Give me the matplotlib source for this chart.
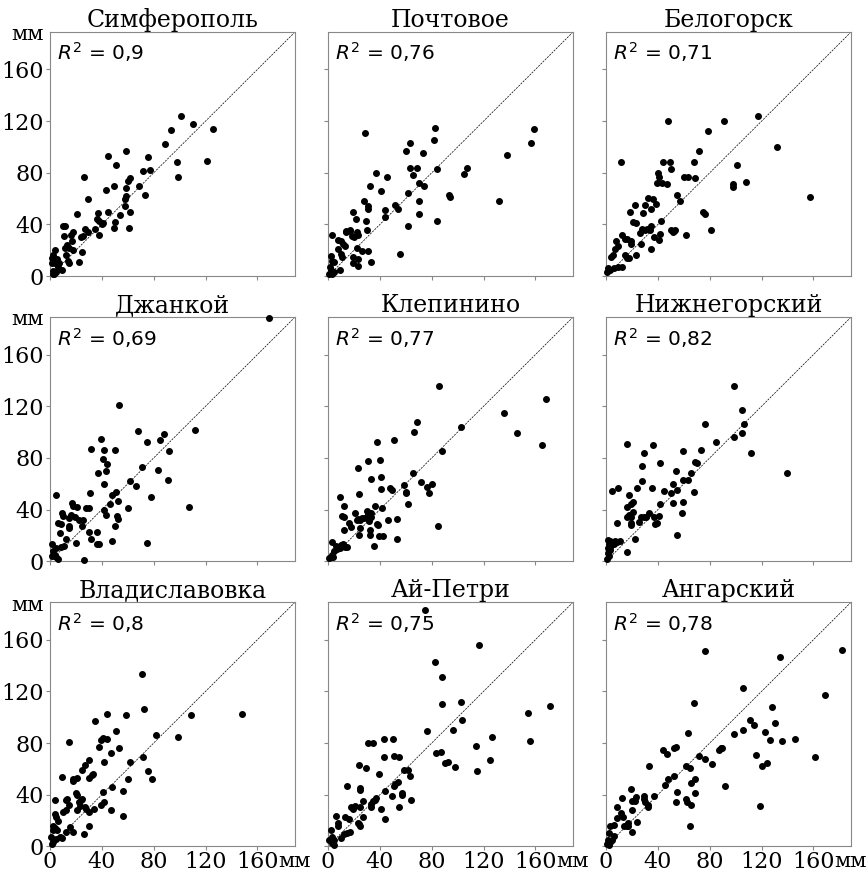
import numpy as np
import matplotlib
matplotlib.use("Agg")
import matplotlib.pyplot as plt

plt.rcParams['font.family'] = 'DejaVu Serif'
plt.rcParams['mathtext.fontset'] = 'dejavusans'

axis_max = 189
tick_values = [0, 40, 80, 120, 160]
unit_label = 'мм'

station_names = ['Симферополь', 'Почтовое', 'Белогорск',
                 'Джанкой', 'Клепинино', 'Нижнегорский',
                 'Владиславовка', 'Ай-Петри', 'Ангарский']
r2_values = ['0,9', '0,76', '0,71', '0,69', '0,77', '0,82', '0,8', '0,75', '0,78']

simferopol = np.array([
    [101, 124], [110, 117.5], [126, 114], [93, 113], [89, 102], [121, 89], [98, 88], [98.6, 76.6],
    [45, 93], [59, 97], [76, 92], [77, 82], [72, 81.5], [51, 86], [62, 76], [60, 74], [69, 70],
    [73, 63], [49, 70], [43, 67], [59, 68], [59, 62], [58, 60], [58, 54], [62, 50], [61, 37],
    [54, 47], [50, 42], [45, 50], [49, 37], [41, 41], [40, 40], [37, 49], [36, 44], [38, 43],
    [35, 36.5], [38, 32], [26, 77], [29.5, 60], [21, 48], [27, 36.5], [25.6, 31], [24, 30],
    [29, 34], [25, 19], [22, 11], [10, 39], [11.6, 39], [11, 31], [17.6, 34], [16, 32],
    [16.6, 27], [13, 24], [11.6, 22], [15, 22], [17.6, 20], [12, 16], [14, 12], [15, 10],
    [9, 5], [4, 20], [2.6, 16], [5.7, 13], [4, 10], [6.5, 7], [2.6, 4], [2, 2], [3.4, 2],
    [1.3, 10], [1.3, 14], [5, 3.4], [7, 10]
])

pochtovoe = np.array([
    [28.4, 111], [82.6, 115], [82, 105.6], [63.5, 103], [60, 97], [73, 95], [159, 114],
    [157, 103], [138, 94], [107, 84], [105, 79], [84, 83], [63, 84], [68.5, 84], [65.5, 78],
    [37, 80], [45.7, 77], [32.6, 70], [41, 66], [70, 72], [74, 70], [62, 64], [28, 58],
    [31, 54], [31, 52], [52, 55], [54, 52], [44, 51], [44, 46], [70, 58], [70, 48], [93, 63],
    [94, 61], [131.6, 58], [84, 42.6], [62, 39], [55.5, 17.5], [19, 50], [21.7, 44],
    [29, 42.6], [30, 36], [16.8, 36], [17.3, 35], [13.7, 35], [14, 34], [18.6, 31], [20, 30],
    [22.5, 34], [23, 32], [3.4, 32], [7.5, 28], [10, 27], [11.6, 25], [13, 23], [7.7, 21.4],
    [10, 17.5], [10.6, 15], [19, 15], [22, 21.7], [26, 19.4], [31, 19.4], [23.5, 13],
    [19, 10], [23, 8], [33, 11], [9, 4.6], [2, 15.5], [3, 11.6], [5, 11], [1.3, 7],
    [2.3, 4.6], [4.4, 3.4], [0.5, 2], [3, 1.5]
])

belogorsk = np.array([
    [117, 124], [91, 120.5], [47.5, 120], [79, 112], [131.6, 100], [72, 96.6], [11.6, 88],
    [44, 88], [49, 88], [50, 83], [67.6, 88], [101, 86], [60, 77], [63, 76.6], [69, 76],
    [40, 80], [41, 77], [39, 72], [43, 72], [47, 71], [98, 71], [98, 69], [108, 72.6],
    [157.6, 61], [55, 62.6], [57, 58], [32.6, 60.6], [36, 60], [38.5, 56], [34.6, 52],
    [29.7, 55], [22, 55], [28.4, 49], [18.3, 50], [21, 42], [23.5, 41], [35, 39], [42.6, 42.4],
    [26, 33.6], [28, 36.6], [29.7, 36], [31.7, 36.6], [33.6, 35.4], [50, 35.7], [52, 34],
    [53, 35.5], [52.8, 34.7], [62, 31.6], [81, 36], [75, 49.7], [76, 48], [37, 30.3],
    [41, 28], [42, 32.6], [35, 21], [26.6, 25], [23, 16], [12, 31.6], [15, 28.5], [16.5, 29],
    [19, 27], [19.6, 25], [7.7, 27], [9.3, 23], [7, 21.4], [5, 16.3], [3.6, 15], [14.5, 16],
    [16, 14], [18, 14], [1.3, 6.5], [3.4, 4.6], [6.5, 6], [9, 6.7], [12, 7.2], [0.8, 3.4]
])

dzhankoy = np.array([
    [169, 188], [53.4, 121], [68, 101], [111.5, 101.6], [88, 98.6], [74.6, 92], [85, 94],
    [39.5, 94.7], [32, 87], [42, 86], [50, 86], [92, 85], [40.6, 79], [44, 75], [43, 70],
    [37, 68], [83, 71], [70.7, 73], [91, 63], [62, 62], [66, 58], [42, 60], [31, 53],
    [51, 54], [48, 51.6], [52.6, 47], [77.7, 49.5], [46.5, 44], [42, 39.5], [43, 35.6],
    [52, 35], [52.7, 33], [60, 41.3], [107, 42], [28, 41], [30, 41], [21, 41.8], [17, 45],
    [17.5, 43], [19.6, 34.6], [25.5, 32], [22, 31.6], [24.5, 27.6], [15, 33.5], [16.5, 35.6],
    [9, 37], [10, 35], [6, 29.7], [8.5, 29], [8, 22], [14.4, 27], [15, 26], [4.6, 51.6],
    [30, 23], [36.6, 23], [32, 17.5], [36, 13], [37.7, 13.4], [47.5, 16], [50, 27], [75, 14],
    [20, 14], [12.6, 17.3], [11, 12], [8.8, 11.4], [4.6, 10], [1.5, 13], [2.6, 8], [3.6, 5],
    [5, 3.6], [6.5, 2], [26, 1.3], [1.3, 3.9]
])

klepinino = np.array([
    [86, 136], [168, 125.5], [136, 114.6], [146, 99.6], [165, 90], [102.5, 104], [68.6, 108],
    [66, 100], [51, 93.7], [37.7, 92], [31, 78], [40, 78.7], [23, 72], [88, 85], [65.5, 68],
    [33.5, 64], [41, 65.5], [72, 61.7], [59, 59], [48, 56.5], [49, 55], [40.5, 56], [60, 54],
    [60, 53], [76, 57.5], [80, 59.6], [78, 52.6], [24, 52], [9, 50], [12.6, 42.6],
    [36.6, 42.6], [42, 41], [62, 44], [21, 37.4], [23.5, 33], [30, 39], [31, 36.5],
    [33.5, 37], [33, 34], [31.6, 33], [28, 33.5], [24.5, 32.3], [26, 33.5], [22, 31.8],
    [10.8, 34.8], [12.6, 34.3], [16.5, 29.4], [17.5, 26.6], [12.4, 24], [24.5, 25.8],
    [24, 20.6], [31.7, 31], [32.5, 24], [32.5, 20.6], [38, 29], [38.4, 28], [39, 19.4],
    [42.3, 19.6], [46, 31.7], [53.4, 33], [53, 17], [35.4, 11.6], [85, 27.6], [3.4, 15],
    [6, 12], [8.3, 11.4], [10, 12.6], [11.6, 13.4], [13.4, 11.4], [15, 11], [9.5, 10],
    [7, 9.8], [5, 7.7], [3.4, 4.6], [2.3, 3.6], [1, 2.6], [4, 3]
])

nizhnegorsky = np.array([
    [99, 136], [105, 117], [106.6, 106], [76, 106.6], [105, 99], [98.6, 96], [85, 92],
    [112, 83.6], [140, 68], [16.5, 91], [36, 90], [29, 83.6], [59.6, 85.7], [73.5, 86],
    [69, 77], [70.4, 76], [65.6, 68], [28, 74], [42, 76], [53.7, 70], [28, 62], [52, 60],
    [59, 62.7], [63, 62.7], [24, 57], [35.6, 57], [45, 54.7], [50, 52.6], [55, 55], [68, 54],
    [4.6, 54.7], [9, 56.5], [18, 51.6], [21, 45.7], [19, 44], [16, 42], [21, 38], [17.5, 36],
    [16, 34.6], [19, 34.6], [25.5, 30.7], [19, 29.4], [19, 28], [27, 34.3], [29, 34.6],
    [31, 34.6], [33, 37], [37, 34], [41, 35], [37.7, 28.6], [39.7, 29.4], [42, 44], [52, 45],
    [59, 45.7], [58.6, 37.7], [22.7, 17.3], [8.5, 30], [54.5, 20], [16.5, 7], [1.3, 16.8],
    [2.8, 15.5], [4.6, 15], [6.7, 15.5], [8.5, 15], [11, 16], [2, 13], [3.9, 12.4], [6, 13],
    [1.3, 10], [2.8, 9], [1.3, 6.5], [2, 3.9], [0.8, 2], [3.4, 11]
])

vladislavovka = np.array([
    [71, 133.6], [72.5, 106], [109, 102], [148, 102.6], [98.6, 85], [81.5, 86.6], [71.7, 69],
    [76, 58.5], [78.4, 52], [60, 52], [62, 65], [59, 102], [44, 102.4], [34.4, 97], [51, 89],
    [41, 84], [44, 83], [39, 82.6], [37.5, 77], [53.6, 76], [47, 72.5], [41.7, 65.6],
    [14.8, 81], [30, 67], [27, 63], [25, 59.5], [33, 56], [32.6, 55], [30, 53], [9, 53.6],
    [17.6, 52], [21, 53], [17.6, 50.5], [20, 41], [20.5, 39.6], [13, 37], [12, 36], [15, 32],
    [12, 28], [9.8, 27], [20.7, 28], [22, 34.4], [24, 35.7], [23, 31.6], [27, 30.5],
    [28, 29], [24.6, 37], [34, 29], [40.6, 42], [39, 32], [41.7, 34], [48, 45.6], [47, 28],
    [30, 26.7], [56, 42.7], [56.4, 23.6], [4, 35.7], [4, 25], [5, 23], [6, 20], [2.6, 15.5],
    [4, 14.5], [5.7, 13], [2.6, 12.4], [12, 11], [18, 11], [15.5, 15], [26, 9.3], [30, 15.5],
    [5, 6], [7.8, 7.2], [2.6, 3.4], [1.3, 2], [9, 6.7], [0.5, 7.2]
])

ai_petri = np.array([
    [74.6, 183], [116.5, 156], [82.6, 143], [88, 131], [88, 110.5], [102.5, 112], [103, 98],
    [96.6, 90], [76, 89], [171, 109], [154, 103.6], [156, 81.5], [126.6, 84.6], [114, 77.7],
    [125, 67], [115, 58], [83, 72.5], [87.5, 72.7], [90, 64.7], [92.6, 65], [97.6, 61.6],
    [50.5, 83], [31, 80], [34.4, 80], [43.5, 83], [43, 69], [50.7, 70], [54.6, 69], [24, 63],
    [29, 61], [58.5, 59.5], [62, 59.5], [63.4, 54.6], [39, 55.7], [15, 47], [25, 45.3],
    [25, 43.5], [43.6, 42.7], [50.7, 46.6], [52, 48], [54, 49.5], [57, 41.4], [56.7, 40],
    [49, 39], [64, 35.7], [54.6, 30.3], [37, 37.8], [36, 36], [35, 35], [33, 33], [33, 30.5],
    [27, 35], [25, 30.5], [19, 29], [18, 30.5], [20.5, 31], [41, 29], [44, 21], [27, 22.8],
    [23, 18.4], [25, 15.8], [23.6, 17.6], [6, 23.6], [7.5, 18.4], [8, 16], [13, 22.8],
    [16.3, 21], [17, 10.9], [15, 10.4], [12.7, 9.8], [10, 6.2], [2, 12.7], [2.8, 7.2],
    [1, 4.7], [3.4, 2.8], [4.7, 4.7], [5, 1.3]
])

angarsky = np.array([
    [182, 151.7], [76, 151.4], [134.6, 146.5], [106, 123], [169, 117.5], [68, 111], [128, 108],
    [111, 98], [130, 95.5], [114, 93.7], [106, 90], [98.6, 86.7], [123, 88.8], [126.4, 82.3],
    [136, 81.8], [146, 83], [63, 87.5], [43.7, 74.3], [46.9, 71.7], [52.6, 76.4], [53.6, 77],
    [71.7, 70], [76.4, 67.3], [82, 64], [87, 75], [88.5, 75.8], [89.3, 76], [116, 70.7],
    [124.5, 64.5], [120.4, 62], [161, 69], [33.4, 62], [61.6, 62.4], [65, 61], [48, 52],
    [52.6, 54.4], [45.3, 47.4], [68.6, 52], [65.5, 49], [55, 42], [68.4, 41.4], [53.8, 34.7],
    [62, 37], [62.7, 34.2], [65.3, 32], [92, 47], [119, 31.3], [64.7, 15.8], [19.4, 44.8],
    [12.4, 37.5], [8.8, 30.3], [20, 35.2], [23.3, 38], [22.5, 35.2], [29, 39], [29, 37],
    [30, 34], [32.4, 30.5], [32.6, 32.4], [37.3, 39], [20, 28.5], [11.6, 26], [13, 22.8],
    [8.5, 21.7], [14, 16], [16.6, 16], [16.6, 18.4], [16.3, 15.5], [20, 11.4], [23.8, 18.6],
    [3.4, 16], [6, 16.6], [2.6, 10.4], [6.5, 7.8], [1.6, 4.7], [3, 3.4], [4.4, 4.7],
    [0.8, 2], [2.3, 1.3]
])

station_data = [simferopol, pochtovoe, belogorsk,
                dzhankoy, klepinino, nizhnegorsky,
                vladislavovka, ai_petri, angarsky]


def draw_panel(ax, data, name, r2, show_x, show_y):
    ax.scatter(data[:, 0], data[:, 1], s=16, color='black', zorder=3, clip_on=False)
    ax.axline((0, 0), slope=1, color='black', linewidth=0.5, linestyle=(0, (3, 1.5)))
    ax.set_xlim(0, axis_max)
    ax.set_ylim(0, axis_max)
    ax.set_xticks(tick_values)
    ax.set_yticks(tick_values)
    ax.tick_params(labelsize=16, color='#888888', length=3, width=0.8,
                   labelbottom=show_x, labelleft=show_y)
    ax.tick_params(axis='x', pad=0)
    ax.tick_params(axis='y', pad=1.5)
    for spine in ax.spines.values():
        spine.set_color('#888888')
        spine.set_linewidth(0.8)
    ax.set_title(name, fontsize=17, pad=3)
    ax.text(0.03, 0.965, r'$R^2$ = ' + r2, transform=ax.transAxes, fontsize=14.5,
            family='DejaVu Sans', va='top', ha='left')
    if show_y:
        ax.annotate(unit_label, xy=(0, 1), xycoords='axes fraction', xytext=(-4.5, -2),
                    textcoords='offset points', ha='right', va='center', fontsize=15)
    if show_x:
        ax.annotate(unit_label, xy=(1, 0), xycoords='axes fraction', xytext=(0, -14.5),
                    textcoords='offset points', ha='center', va='baseline', fontsize=15)


fig, axes = plt.subplots(3, 3, figsize=(8.68, 8.73), dpi=100)
fig.subplots_adjust(left=0.0576, right=0.9804, bottom=0.0305, top=0.9633,
                    wspace=0.135, hspace=0.168)

for i, ax in enumerate(axes.flat):
    row, col = divmod(i, 3)
    draw_panel(ax, station_data[i], station_names[i], r2_values[i],
               show_x=(row == 2), show_y=(col == 0))

fig.savefig('out.png', dpi=100)
